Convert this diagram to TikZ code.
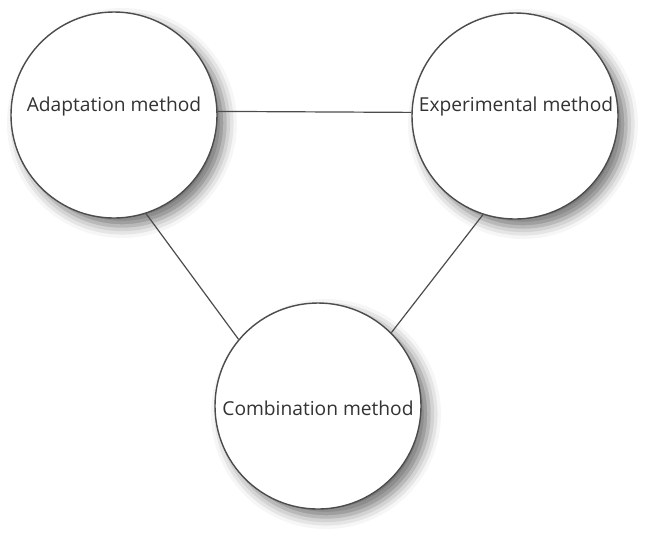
\documentclass[tikz,border=0pt]{standalone}
\usepackage{fontspec}
\setmainfont{Open Sans}
\usepackage{tikz}
\usetikzlibrary{shadows.blur}

\begin{document}
\begin{tikzpicture}[x=.5pt,y=-.5pt,
    method/.style={circle, draw=black!70, line width=.7pt, fill=white, minimum size=103pt,
      inner sep=0pt,
      blur shadow={shadow xshift=4pt, shadow yshift=-4pt, shadow blur radius=6pt, shadow opacity=55}},
    label/.style={text=black!80, font=\fontsize{9.6}{11}\selectfont},
    link/.style={draw=black!70, line width=.6pt}]
             \useasboundingbox (0,0) rectangle (646,538);

             \node[method] (adapt) at (114, 115) {};
             \node[method] (exper) at (515, 116) {};
             \node[method] (combi) at (318, 406) {};

             \node[label] (adaptlbl) at (114, 107) {Adaptation method};
             \node[label] (experlbl) at (516, 107) {Experimental method};
             \node[label] (combilbl) at (318, 408) {Combination method};

             \draw[link] (adapt.2) -- (exper.178);
             \draw[link] (adapt.-72) -- (combi.140);
             \draw[link] (exper.-108) -- (combi.45);
             \end{tikzpicture}
\end{document}
